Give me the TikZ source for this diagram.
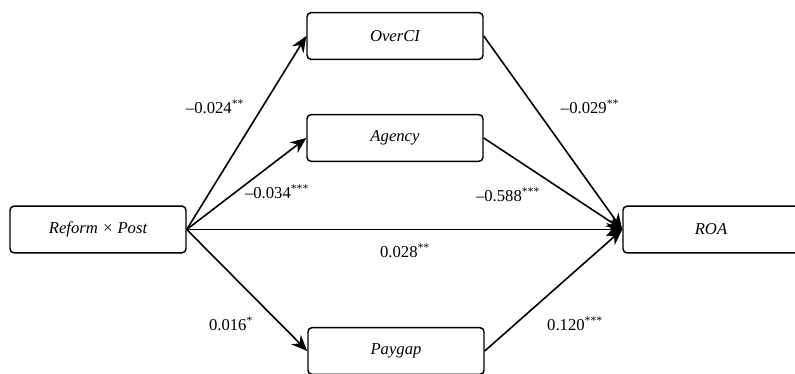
\documentclass[tikz,border=0pt]{standalone}
\usepackage{fontspec}
\setmainfont{Liberation Serif}
\usetikzlibrary{arrows.meta}
\tikzset{
  varbox/.style={draw, line width=1.1pt, rounded corners=3pt, minimum width=132pt,
    minimum height=35pt, inner sep=0pt, font=\itshape\fontsize{12.5}{14}\selectfont},
  effect/.style={-{Stealth[length=12pt,width=10pt]}, line width=1.2pt},
  coef/.style={inner sep=0pt, font=\fontsize{12.5}{14}\selectfont}
}
\begin{document}
\begin{tikzpicture}[x=0.75pt,y=0.75pt]
	\useasboundingbox (0,0) rectangle (795,374);
	\clip (0,0) rectangle (795,374);
	%=========== variables, from left to right ===========================
	\node[varbox] (rp) at (98,144.5) {Reform × Post};
	\node[varbox] (overci) at (395,338) {OverCI};
	\node[varbox] (agency) at (395,236) {Agency};
	\node[varbox] (paygap) at (396,23) {Paygap};
	\node[varbox] (roa) at (711,144.5) {ROA};
	%=========== paths ===========================
	\draw[effect] (rp.east) -- (overci.west);
	\draw[effect] (rp.east) -- (agency.west);
	\draw[effect] (rp.east) -- (paygap.west);
	\draw[effect] (rp.east) -- (roa.west);
	\draw[effect] (overci.east) -- (roa.west);
	\draw[effect] (agency.east) -- (roa.west);
	\draw[effect] (paygap.east) -- (roa.west);
	%=========== coefficients ===========================
	\node[coef] (c1) at (215,267) {–0.024\textsuperscript{**}};
	\node[coef] (c2) at (277,182) {–0.034\textsuperscript{***}};
	\node[coef] (c3) at (231,50) {0.016\textsuperscript{*}};
	\node[coef] (c4) at (405,123) {0.028\textsuperscript{**}};
	\node[coef] (c5) at (590,267) {–0.029\textsuperscript{**}};
	\node[coef] (c6) at (508,179) {–0.588\textsuperscript{***}};
	\node[coef] (c7) at (575,50) {0.120\textsuperscript{***}};
\end{tikzpicture}
\end{document}
